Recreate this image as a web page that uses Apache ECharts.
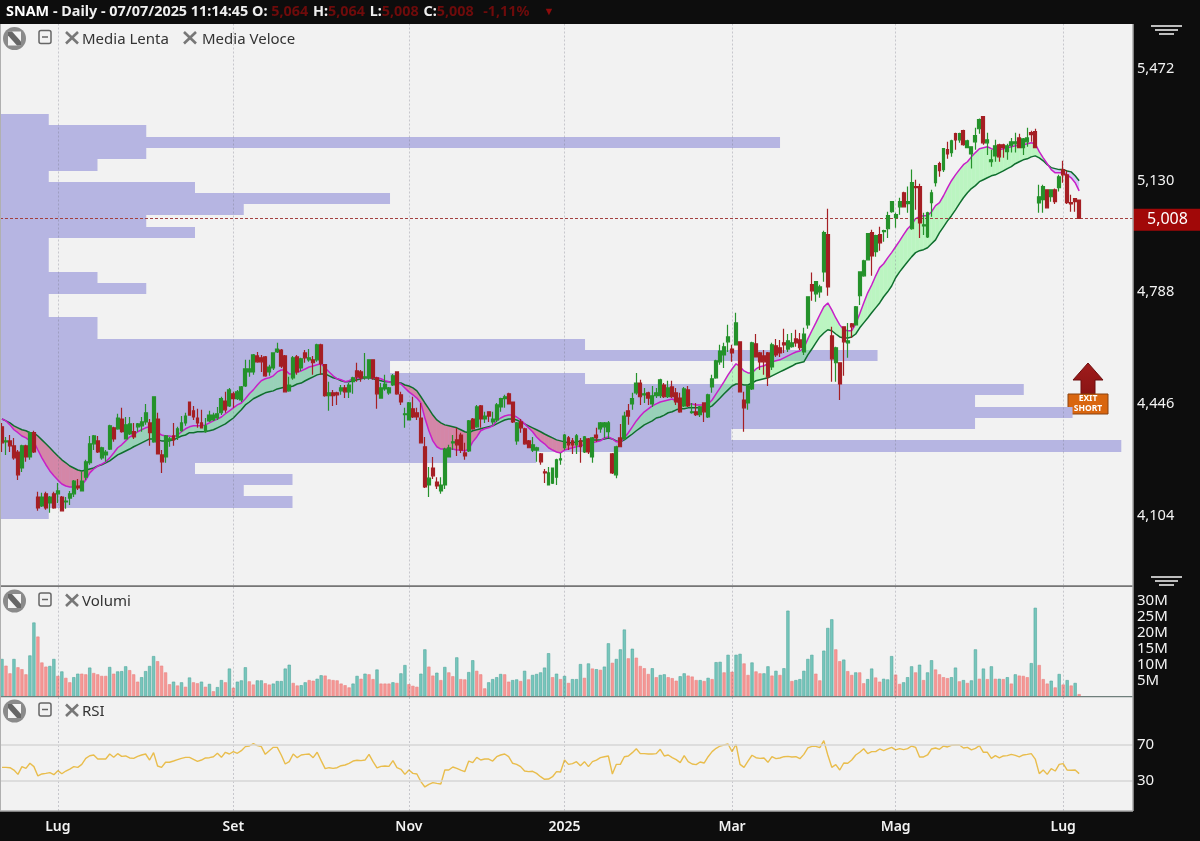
<!DOCTYPE html>
<html><head><meta charset="utf-8">
<style>html,body{margin:0;padding:0;background:#0d0d0d}#c{width:1200px;height:841px}</style>
<script src="https://cdn.jsdelivr.net/npm/echarts@6/dist/echarts.min.js"></script></head>
<body><div id="c"></div>
<script>
// [open, close, low, high], thousandths of a euro
const candles = [
[4370,4321,4293,4382],[4324,4327,4284,4339],[4327,4312,4293,4345],[4312,4275,4269,4336],[4293,4223,4207,4299],[4244,4312,4232,4315],[4312,4278,4263,4315],[4278,4352,4269,4355],[4352,4293,4290,4358],[4155,4122,4113,4171],
[4128,4155,4125,4168],[4165,4122,4116,4171],[4137,4155,4107,4158],[4165,4122,4119,4171],[4165,4174,4137,4198],[4155,4113,4113,4158],[4140,4143,4119,4155],[4152,4165,4131,4174],[4165,4204,4155,4207],[4189,4183,4177,4210],
[4174,4204,4174,4235],[4216,4263,4207,4269],[4260,4318,4254,4342],[4318,4342,4299,4345],[4327,4293,4290,4342],[4275,4306,4269,4309],[4284,4293,4263,4299],[4302,4373,4299,4376],[4367,4333,4324,4370],[4364,4397,4361,4410],
[4394,4355,4352,4428],[4333,4376,4333,4400],[4348,4379,4345,4400],[4355,4339,4333,4382],[4370,4379,4355,4382],[4373,4385,4355,4400],[4385,4413,4376,4440],[4382,4352,4312,4394],[4324,4462,4321,4462],[4394,4287,4287,4413],
[4284,4263,4229,4299],[4278,4342,4260,4345],[4330,4333,4309,4339],[4342,4330,4312,4382],[4339,4364,4330,4370],[4358,4382,4355,4403],[4382,4403,4373,4413],[4446,4406,4406,4446],[4419,4400,4391,4434],[4397,4382,4367,4425],
[4382,4367,4367,4422],[4355,4373,4352,4397],[4388,4406,4385,4419],[4391,4406,4388,4413],[4397,4410,4391,4431],[4413,4456,4406,4462],[4449,4422,4413,4477],[4434,4483,4431,4489],[4471,4456,4428,4477],[4456,4477,4452,4483],
[4452,4492,4446,4495],[4495,4547,4492,4575],[4538,4547,4523,4575],[4538,4590,4529,4593],[4587,4569,4566,4599],[4581,4569,4538,4590],[4584,4526,4523,4587],[4538,4553,4526,4560],[4550,4596,4544,4596],[4599,4608,4596,4627],
[4605,4556,4550,4608],[4587,4477,4477,4590],[4480,4498,4477,4523],[4520,4581,4514,4587],[4584,4538,4529,4590],[4550,4578,4541,4581],[4596,4581,4566,4605],[4575,4581,4569,4608],[4575,4566,4529,4587],[4575,4621,4569,4624],
[4621,4563,4529,4624],[4560,4465,4462,4560],[4465,4474,4419,4508],[4474,4465,4434,4483],[4474,4468,4437,4477],[4480,4489,4468,4498],[4489,4477,4458,4498],[4477,4498,4458,4504],[4508,4520,4471,4523],[4541,4523,4508,4566],
[4538,4520,4508,4544],[4520,4523,4514,4596],[4520,4575,4514,4575],[4575,4520,4514,4575],[4520,4471,4425,4523],[4458,4489,4458,4504],[4486,4501,4480,4529],[4474,4489,4468,4492],[4498,4526,4495,4532],[4538,4471,4468,4538],
[4468,4446,4437,4477],[4407,4410,4367,4428],[4391,4443,4391,4446],[4425,4400,4397,4462],[4413,4400,4391,4428],[4397,4321,4321,4443],[4309,4186,4183,4339],[4192,4213,4155,4247],[4244,4220,4210,4278],[4201,4189,4180,4216],
[4174,4192,4165,4216],[4192,4302,4180,4306],[4278,4306,4278,4315],[4321,4324,4299,4345],[4330,4315,4281,4367],[4345,4299,4290,4352],[4290,4281,4269,4321],[4296,4388,4293,4391],[4394,4364,4361,4397],[4370,4431,4367,4437],
[4434,4394,4367,4437],[4394,4403,4382,4416],[4416,4403,4385,4416],[4385,4394,4376,4416],[4391,4437,4385,4443],[4431,4456,4416,4459],[4456,4462,4428,4468],[4471,4440,4440,4474],[4446,4385,4382,4446],[4327,4382,4315,4385],
[4385,4367,4352,4394],[4364,4318,4315,4367],[4327,4306,4306,4330],[4299,4315,4293,4339],[4299,4306,4263,4309],[4287,4263,4254,4290],[4232,4229,4198,4241],[4192,4229,4192,4247],[4198,4244,4195,4244],[4216,4269,4192,4272],
[4269,4272,4254,4290],[4306,4345,4299,4348],[4336,4315,4299,4342],[4327,4315,4287,4336],[4315,4342,4287,4348],[4327,4309,4260,4336],[4293,4339,4290,4342],[4333,4293,4287,4336],[4278,4336,4260,4339],[4345,4336,4324,4367],
[4364,4382,4352,4385],[4370,4382,4336,4385],[4355,4382,4336,4388],[4287,4229,4226,4290],[4223,4309,4213,4312],[4336,4309,4309,4379],[4333,4403,4330,4416],[4419,4403,4376,4440],[4440,4456,4422,4474],[4474,4504,4468,4535],
[4504,4462,4437,4514],[4468,4471,4443,4489],[4474,4458,4437,4477],[4440,4465,4431,4495],[4465,4474,4458,4489],[4465,4514,4458,4517],[4498,4462,4458,4504],[4462,4489,4458,4511],[4492,4462,4458,4511],[4474,4446,4437,4489],
[4458,4416,4413,4474],[4434,4486,4431,4492],[4483,4434,4431,4495],[4413,4416,4410,4443],[4416,4407,4403,4443],[4407,4431,4400,4434],[4443,4416,4385,4443],[4400,4468,4397,4471],[4492,4517,4474,4529],[4520,4572,4517,4575],
[4569,4602,4560,4621],[4590,4615,4550,4627],[4630,4645,4599,4682],[4608,4596,4569,4621],[4621,4688,4621,4719],[4630,4477,4477,4630],[4452,4428,4355,4477],[4443,4495,4422,4498],[4486,4627,4483,4630],[4624,4584,4584,4654],
[4596,4569,4544,4599],[4587,4569,4529,4605],[4596,4523,4495,4599],[4553,4621,4544,4627],[4618,4590,4584,4639],[4612,4596,4584,4636],[4627,4621,4596,4670],[4608,4633,4599,4654],[4615,4627,4612,4657],[4639,4627,4615,4667],
[4636,4612,4605,4657],[4599,4654,4590,4673],[4682,4768,4670,4768],[4805,4786,4756,4842],[4777,4814,4753,4814],[4783,4798,4765,4805],[4844,4964,4814,4970],[4958,4798,4771,5037],[4648,4578,4508,4676],[4566,4612,4508,4615],
[4566,4501,4452,4566],[4676,4630,4526,4676],[4627,4633,4581,4688],[4685,4676,4642,4688],[4682,4737,4682,4740],[4771,4844,4743,4844],[4832,4878,4829,4881],[4881,4961,4881,4961],[4964,4893,4832,4973],[4906,4955,4890,4958],
[4958,4933,4909,4982],[4967,4970,4936,4973],[4976,5016,4948,5028],[5028,5059,5025,5059],[5010,5019,4979,5025],[5043,5059,5019,5071],[5086,5043,5043,5089],[5053,5059,5025,5105],[4976,5117,4973,5157],[5105,5102,5034,5126],
[5105,4994,4948,5114],[4985,4988,4957,5025],[4951,5025,4948,5028],[5056,5086,5013,5095],[5117,5169,5105,5169],[5175,5154,5135,5181],[5157,5221,5150,5221],[5218,5205,5190,5242],[5209,5245,5196,5248],[5267,5248,5218,5270],
[5248,5267,5239,5270],[5276,5233,5230,5279],[5224,5245,5224,5248],[5205,5227,5160,5227],[5242,5261,5218,5285],[5282,5310,5267,5313],[5319,5239,5233,5319],[5239,5248,5202,5270],[5181,5187,5166,5218],[5199,5230,5181,5248],
[5233,5196,5181,5236],[5233,5224,5193,5236],[5212,5230,5187,5236],[5230,5242,5209,5254],[5236,5242,5209,5270],[5254,5224,5224,5267],[5224,5251,5202,5254],[5242,5254,5227,5285],[5270,5264,5242,5276],[5273,5224,5224,5282],
[5055,5074,5025,5111],[5065,5105,5025,5111],[5095,5040,5040,5095],[5074,5095,5059,5095],[5095,5059,5052,5099],[5102,5135,5090,5141],[5157,5141,5117,5184],[5141,5056,5052,5154],[5056,5052,5028,5080],[5068,5059,5028,5068],
[5064,5008,5008,5064]];

const fastMA = [4394,4388,4376,4361,4352,4342,4336,4327,4324,4299,4275,4254,4235,4220,4207,4195,4189,4186,4186,4186,4192,4207,4229,4241,4250,4256,4263,4275,4290,4306,4315,4327,4339,4345,4355,4361,4367,4370,4367,4352,4345,4342,4342,4339,4345,4355,4364,4370,4373,4373,
4373,4376,4382,4388,4394,4400,4410,4419,4428,4437,4443,4456,4471,4483,4498,4511,4517,4520,4526,4538,4544,4544,4532,4532,4538,4541,4547,4553,4556,4560,4563,4550,4538,4526,4517,4514,4508,4511,4517,4520,4520,4520,4520,4520,4520,4517,4511,4508,4504,4504,
4501,4489,4477,4468,4458,4443,4397,4358,4327,4309,4302,4302,4302,4302,4299,4299,4296,4302,4324,4339,4358,4364,4367,4373,4388,4397,4403,4406,4406,4400,4391,4379,4367,4355,4339,4327,4318,4306,4299,4293,4290,4299,4302,4306,4309,4312,4315,4318,4321,4324,
4327,4336,4339,4333,4324,4324,4336,4352,4370,4388,4403,4416,4425,4434,4440,4446,4449,4452,4455,4449,4440,4437,4440,4440,4437,4437,4437,4440,4452,4471,4489,4508,4529,4547,4563,4554,4541,4535,4535,4547,4554,4557,4563,4569,4572,4575,4581,4587,4593,4599,
4602,4611,4639,4664,4688,4713,4737,4749,4728,4703,4682,4667,4664,4664,4685,4716,4749,4780,4804,4832,4857,4869,4887,4903,4921,4939,4958,4976,4988,5007,5013,5016,5016,5028,5047,5056,5077,5101,5123,5141,5157,5172,5181,5196,5209,5221,5224,5227,5221,5218,5218,5221,5224,5227,5230,5230,5233,5236,5239,5236,5212,5193,5175,5157,5147,5147,5147,5141,5132,5117,5092];

const slowMA = [4394,4388,4382,4373,4367,4361,4358,4352,4352,4342,4330,4318,4306,4293,4281,4269,4260,4250,4244,4238,4235,4238,4241,4244,4250,4254,4260,4266,4275,4284,4290,4296,4302,4309,4315,4321,4327,4333,4333,4330,4327,4327,4327,4330,4336,4342,4345,4352,4352,4355,
4355,4356,4358,4361,4367,4373,4379,4388,4397,4410,4422,4437,4446,4456,4462,4468,4474,4477,4480,4486,4489,4492,4492,4495,4501,4504,4511,4517,4523,4529,4532,4532,4526,4520,4517,4511,4508,4508,4511,4514,4517,4520,4520,4517,4514,4511,4508,4508,4504,4504,
4504,4498,4495,4489,4480,4462,4443,4425,4406,4391,4382,4376,4373,4370,4367,4361,4355,4352,4358,4361,4364,4367,4370,4373,4379,4385,4391,4394,4394,4391,4385,4379,4373,4367,4361,4355,4348,4342,4336,4330,4327,4324,4321,4321,4324,4327,4327,4327,4330,4330,
4330,4333,4336,4333,4327,4324,4330,4339,4348,4358,4367,4376,4382,4388,4397,4400,4406,4413,4416,4422,4425,4425,4428,4428,4428,4428,4428,4428,4434,4446,4458,4471,4483,4495,4501,4501,4498,4498,4504,4511,4514,4517,4520,4526,4532,4538,4544,4550,4556,4563,
4566,4569,4590,4608,4627,4645,4657,4667,4664,4654,4645,4642,4642,4645,4654,4673,4688,4703,4719,4734,4749,4768,4783,4801,4826,4844,4860,4875,4890,4903,4909,4912,4918,4930,4942,4964,4982,5000,5016,5034,5053,5071,5086,5099,5108,5120,5126,5132,5138,5141,5147,5153,5160,5166,5175,5181,5187,5190,5196,5199,5193,5184,5172,5163,5160,5157,5157,5153,5150,5138,5123];

// millions of shares
const volumes = [11.8,9.7,7.3,11.8,9.2,8.6,7.0,12.9,23.2,18.8,10.7,9.4,9.6,11.8,6.5,7.9,5.9,4.5,6.1,7.2,7.2,7.0,9.1,7.4,7.0,6.5,6.5,9.3,7.2,7.9,8.0,9.5,8.3,7.0,4.7,6.1,8.0,9.6,12.7,11.1,9.7,7.6,3.9,4.7,3.5,4.5,3.1,6.0,4.5,4.2,
4.7,3.1,4.0,1.7,3.0,5.2,4.5,8.8,2.8,4.7,5.1,9.2,4.8,3.8,5.1,5.1,4.2,3.8,4.1,4.9,4.9,8.8,10.0,4.3,3.5,3.6,4.5,5.2,5.0,5.6,6.7,6.6,5.4,5.2,5.1,4.1,3.6,2.9,4.1,6.5,5.6,7.2,7.0,5.5,8.5,4.1,4.1,4.1,4.5,4.3,
7.3,9.9,3.9,3.4,3.1,7.2,14.8,9.4,6.6,7.5,5.2,9.3,7.6,6.4,12.3,5.5,5.4,7.7,11.4,8.1,7.0,2.6,4.5,5.5,6.1,7.1,7.0,4.7,5.2,5.4,4.9,8.1,5.4,6.8,7.1,7.6,9.1,13.6,6.1,7.2,5.5,6.5,4.3,5.5,5.5,10.2,5.9,10.4,8.8,8.6,
8.4,9.4,16.7,10.6,11.8,14.8,21.0,12.0,15.0,12.2,9.6,8.9,7.1,8.9,6.1,6.8,7.0,6.1,5.8,5.0,6.4,7.3,6.6,6.3,5.2,5.2,4.9,5.9,5.5,10.8,10.9,7.6,13.1,7.8,13.1,13.4,10.4,6.8,10.7,7.9,7.3,7.3,9.5,6.6,8.1,6.8,8.9,26.9,4.9,5.2,
5.5,8.1,11.8,13.1,7.2,5.1,14.4,21.5,24.2,14.8,11.1,11.6,8.0,6.8,7.6,7.6,4.2,5.5,8.8,6.0,4.7,5.6,5.4,12.7,6.9,4.0,4.5,6.1,9.5,7.6,10.0,5.2,7.6,11.4,8.5,7.0,6.1,5.8,6.1,9.1,4.8,5.2,4.3,5.1,14.8,5.6,8.8,5.5,9.5,5.6,5.6,5.5,6.1,4.1,7.0,6.6,6.5,6.1,10.5,27.8,9.9,5.5,4.1,5.0,2.9,7.1,3.8,5.2,3.5,4.3,0.8];
// 1 = teal bar, 0 = red bar
const volumeUp = [1,0,0,1,0,0,0,1,1,0,0,0,1,1,0,1,0,0,1,1,0,0,1,0,0,0,0,1,0,1,1,1,0,0,0,1,1,1,1,0,0,0,0,1,0,1,0,1,0,0,
1,0,1,0,1,1,0,1,0,1,1,1,0,0,1,1,0,0,1,1,1,1,1,0,0,1,1,0,0,1,1,0,0,0,0,0,0,0,1,1,0,1,0,0,1,0,0,0,1,0,
1,1,0,0,0,1,1,0,0,1,0,1,0,0,1,0,0,1,1,0,0,0,1,1,1,1,0,0,1,1,0,1,0,1,1,1,1,1,0,1,0,1,0,1,1,1,0,1,0,1,
0,1,1,0,1,1,1,0,1,0,0,0,0,1,0,1,1,0,0,0,1,1,0,0,0,1,0,1,0,1,1,0,1,0,1,1,0,0,1,0,0,1,1,0,1,0,1,1,0,1,
1,1,1,1,0,0,1,1,1,0,0,1,0,0,1,0,0,1,1,0,0,1,1,1,0,0,1,1,1,0,1,0,1,1,0,0,0,0,1,1,0,1,0,1,1,0,1,0,1,0,1,0,1,0,1,0,0,0,1,1,0,0,0,1,0,1,0,1,0,1,0];

const rsiValues = [45.2,45.2,44.8,42.2,37.4,46,44.1,49.7,46,35.6,37.8,38.5,39.3,37,41.5,38.1,41.1,43.3,46,45.2,48.5,55.2,58.1,58.9,54.4,54.4,54.4,60,56.3,60.4,57.4,57.8,55.6,55.2,57.4,58.9,60,53.3,61.5,46.7,45.2,50.8,50.8,52.2,53.7,55.2,56.3,56.3,54.1,51.9,
53.3,55.6,55.9,57,60.8,56.3,61.9,60,62.6,60.8,63.7,68.2,68.9,71.5,69.3,68.2,59.6,63.7,67.4,67.4,58.9,48.9,51.5,60,55.9,58.9,59.6,60,55.9,61.9,52.6,43.7,44.8,44.1,44.8,47,47.8,49.7,52.2,53,52.6,53.3,59.6,51.5,44.5,46.3,46.7,46.3,52.6,44.8,
43,37.4,42.2,38.5,37.8,29.3,23.4,26.3,28.2,27.4,26.7,42.2,42.2,45.6,44.1,42.2,40.4,52.2,50.4,56.3,53.3,54.4,54.4,52.2,57,58.9,60,57,49.7,48.5,46,41.1,40.4,40.8,38.5,34.8,31.9,32.2,34.8,40.4,40,53.3,48.5,49.3,51.5,47,51.5,46,51.5,53.3,
55.9,57,57.8,37.8,48.5,48.5,57,57.8,61.5,65.9,60.4,60.4,60,60,60.4,65.2,57.8,58.9,55.9,53.7,50.4,58.2,51.5,48.9,48.2,51.1,50,57,62.6,66.3,68.9,70,71.1,62.6,70.8,48.5,45.2,52.2,58.6,55.9,55.2,55.6,50.8,57,54.8,55.6,57,57.4,56.7,57,
54.8,59.6,66.7,68.5,68.5,67,74.8,58.9,45.2,48.2,42.2,50,49.7,53.3,58.9,61.9,65.9,60.4,62.6,62.6,65.6,63.7,65.6,67.4,64.5,65.9,64.8,65.9,68.9,67.4,56.7,56.7,58.9,65.6,66.7,65.2,68.9,67.8,69.7,70,70,66.7,67.4,64.5,66.3,69.3,61.9,61.9,55.2,58.2,55.6,57.8,58.2,59.6,58.5,56.7,58.9,59.6,60.4,54.4,38.2,42.2,37.4,43.7,41.1,48.5,49.3,42.2,41.9,42.2,38.2];

// volume-at-price histogram: price edges and the height of each row
const profileEdges = [4088,4122,4157,4191,4226,4260,4294,4329,4363,4398,4432,4466,4501,4535,4570,4604,4638,4673,4707,4742,4776,4810,4845,4879,4914,4948,4982,5017,5051,5086,5120,5154,5189,5223,5258,5292,5326];
const profileCounts = [1,6,5,6,4,11,23,15,20,22,20,21,12,8,18,12,2,2,1,1,3,2,1,1,1,4,3,5,8,4,1,2,3,16,3,1];

const monthIndex = [14,58,102,141,183,224,266];
const monthLabels = ['Lug','Set','Nov','2025','Mar','Mag','Lug'];
const priceTicks = [4104,4446,4788,5130,5472];
const volumeTicks = [5,10,15,20,25,30];
const rsiTicks = [30,70];
const lastPrice = 5008;
const slotCount = 284;

[candles,fastMA,slowMA,volumes,volumeUp,rsiValues].forEach((a,k)=>{ if(a.length!==271) throw new Error('len '+k+' = '+a.length); });
if(profileCounts.length!==profileEdges.length-1) throw new Error('profile');

const categories = Array.from({length:slotCount},(_,i)=>{const k=monthIndex.indexOf(i);return k>=0?monthLabels[k]:String(i);});
const fmtPrice = v => (v/1000).toFixed(3).replace('.',',');
const FONT='"Noto Sans", sans-serif';
const AXIS_W='#f2f2f2';

const gridLines = {silent:true,symbol:'none',label:{show:false},animation:false,
  lineStyle:{color:'rgba(110,110,125,0.32)',type:[2,2],width:1},data:monthIndex.map(i=>({xAxis:i}))};

const chart = echarts.init(document.getElementById('c'),null,{renderer:'canvas',width:1200,height:841});

function icon(yc,labels){
  const els=[];
  els.push({type:'circle',shape:{cx:14.5,cy:yc,r:11.5},style:{fill:'#8b8b8b'},silent:true});
  els.push({type:'polygon',shape:{points:[[8,yc-7],[21,yc-7],[21,yc+7],[8,yc+7]]},style:{fill:'#f4f4f4'},silent:true});
  els.push({type:'polygon',shape:{points:[[8,yc-7],[12,yc-7],[21,yc+3],[21,yc+7],[17,yc+7],[8,yc-3]]},style:{fill:'#666'},silent:true});
  els.push({type:'rect',shape:{x:39,y:yc-8,width:12,height:13,r:2},style:{fill:'none',stroke:'#666',lineWidth:1.5},silent:true});
  els.push({type:'line',shape:{x1:42,y1:yc-1.5,x2:48,y2:yc-1.5},style:{stroke:'#666',lineWidth:1.5},silent:true});
  labels.forEach(l=>{
    const x=l.x;
    els.push({type:'line',shape:{x1:x,y1:yc-6.5,x2:x+12,y2:yc+5},style:{stroke:'#777',lineWidth:2.6},silent:true});
    els.push({type:'line',shape:{x1:x+12,y1:yc-6.5,x2:x,y2:yc+5},style:{stroke:'#777',lineWidth:2.6},silent:true});
    els.push({type:'text',x:l.tx,y:yc+1,style:{text:l.t,fill:'#333',font:'15px '+FONT,verticalAlign:'middle',align:'left'},silent:true});
  });
  return els;
}
function handle(y,x0,x1){
  return [0,1,2].map(k=>({type:'line',shape:{x1:x0+k*4,y1:y+k*4,x2:x1-k*4,y2:y+k*4},style:{stroke:'#bdbdbd',lineWidth:2},silent:true}));
}

const graphic = [
  {type:'line',z:50,shape:{x1:0,y1:586,x2:1133,y2:586},style:{stroke:'#9a9a9a',lineWidth:1.5},silent:true},
  {type:'line',z:50,shape:{x1:0,y1:696.7,x2:1133,y2:696.7},style:{stroke:'#6f7f7c',lineWidth:1.2},silent:true},
  {type:'line',z:50,shape:{x1:0,y1:811,x2:1133,y2:811},style:{stroke:'#a8a8a8',lineWidth:1.5},silent:true},
  {type:'line',z:50,shape:{x1:1133,y1:24,x2:1133,y2:811},style:{stroke:'#a8a8a8',lineWidth:1.5},silent:true},
  {type:'line',z:50,shape:{x1:0.5,y1:24,x2:0.5,y2:811},style:{stroke:'#b0b0b0',lineWidth:1},silent:true},
  {type:'group',z:60,children:[
    ...icon(38.5,[{x:66,tx:82,t:'Media Lenta'},{x:184,tx:202,t:'Media Veloce'}]),
    ...icon(601,[{x:66,tx:82,t:'Volumi'}]),
    ...icon(711,[{x:66,tx:82,t:'RSI'}]),
    ...handle(26,1151,1182),
    ...handle(577,1151,1182),
    {type:'polygon',shape:{points:[[1088,363],[1103,380],[1095,380],[1095,394],[1081,394],[1081,380],[1073,380]]},
      style:{fill:{type:'linear',x:0,y:0,x2:0,y2:1,colorStops:[{offset:0,color:'#a01c1c'},{offset:1,color:'#8a1414'}]},stroke:'#6d0f0f',lineWidth:1},silent:true},
    {type:'rect',shape:{x:1068,y:394,width:40,height:20},style:{fill:'#d9660f',stroke:'#8a4210',lineWidth:1},silent:true},
    {type:'text',x:1088,y:404,style:{text:'EXIT\nSHORT',fill:'#fff',font:'bold 8.5px '+FONT,align:'center',verticalAlign:'middle',lineHeight:10},silent:true}
  ]}
];

function bandItem(params,api){
  const i=api.value(0);
  const p1=api.coord([i,api.value(1)]),p2=api.coord([i+1,api.value(3)]);
  const q2=api.coord([i+1,api.value(4)]),q1=api.coord([i,api.value(2)]);
  const up=(api.value(1)+api.value(3))>=(api.value(2)+api.value(4));
  const fill=up?'rgba(112,250,127,0.42)':(i>=255?'rgba(180,160,250,0.5)':'rgba(255,70,85,0.42)');
  return {type:'polygon',shape:{points:[p1,p2,q2,q1]},style:{fill:fill,stroke:null},silent:true};
}
function profileItem(params,api){
  const a=api.coord([0,api.value(1)]),b=api.coord([api.value(0),api.value(2)]);
  const yTop=Math.round(b[1]),yBot=Math.round(a[1]);
  return {type:'rect',shape:{x:a[0],y:yTop,width:b[0]-a[0],height:yBot-yTop},style:{fill:'#b6b5e2'},silent:true};
}

const option = {
  animation:false,
  backgroundColor:'#0d0d0d',
  textStyle:{fontFamily:FONT},
  title:{left:6,top:1,padding:0,text:'{b|SNAM}{w| - Daily - 07/07/2025 11:14:45 O: }{r|5,064} {w|H:}{r|5,064} {w|L:}{r|5,008} {w|C:}{r|5,008}  {r|-1,11%}   {t|▼}',
    textStyle:{rich:{
      b:{color:'#fff',fontSize:14.4,fontWeight:'bold',fontFamily:FONT,lineHeight:22},
      w:{color:'#efefef',fontSize:14.4,fontFamily:FONT,lineHeight:22},
      r:{color:'#6e0b0b',fontSize:14.4,fontFamily:FONT,lineHeight:22},
      t:{color:'#8d0c0c',fontSize:11,fontFamily:FONT,lineHeight:22}}}},
  graphic:graphic,
  axisPointer:{show:false},
  grid:[
    {left:0,right:67,top:24,height:561.5,show:true,backgroundColor:'#f2f2f2',borderWidth:0},
    {left:0,right:67,top:587,height:109.7,show:true,backgroundColor:'#f2f2f2',borderWidth:0},
    {left:0,right:67,top:697,height:114,show:true,backgroundColor:'#f2f2f2',borderWidth:0}
  ],
  xAxis:[
    {type:'category',gridIndex:0,data:categories,show:false},
    {type:'value',gridIndex:0,min:0,max:23.24,show:false},
    {type:'category',gridIndex:1,data:categories,show:false},
    {type:'category',gridIndex:2,data:categories,axisLine:{show:false},axisTick:{show:false},splitLine:{show:false},
      axisLabel:{show:true,color:AXIS_W,fontSize:14,fontWeight:600,fontFamily:FONT,margin:9,hideOverlap:false,
        interval:(i)=>monthIndex.includes(i),formatter:(v)=>v}}
  ],
  yAxis:[
    {type:'value',gridIndex:0,position:'right',min:3884.5,max:5602.5,scale:true,axisLine:{show:false},axisTick:{show:false},splitLine:{show:false},
      axisLabel:{customValues:priceTicks,margin:4,formatter:(v)=>'{a|'+fmtPrice(v)+'}',
        rich:{a:{color:AXIS_W,fontSize:14.6,fontFamily:FONT,padding:[4,0,0,0]}}}},
    {type:'value',gridIndex:1,position:'right',min:0,max:34.3,axisLine:{show:false},axisTick:{show:false},splitLine:{show:false},
      axisLabel:{customValues:volumeTicks,color:AXIS_W,fontSize:15,fontFamily:FONT,margin:4,formatter:(v)=>v+'M'}},
    {type:'value',gridIndex:2,position:'right',min:-3.3,max:123.3,axisLine:{show:false},axisTick:{show:false},splitLine:{show:false},
      axisLabel:{customValues:rsiTicks,color:AXIS_W,fontSize:15,fontFamily:FONT,margin:4}}
  ],
  series:[
    {type:'custom',name:'profile',xAxisIndex:1,yAxisIndex:0,z:1,clip:true,silent:true,renderItem:profileItem,
      encode:{x:0,y:[1,2]},data:profileCounts.map((v,k)=>[v,profileEdges[k],profileEdges[k+1]])},
    {type:'line',name:'grid0',xAxisIndex:0,yAxisIndex:0,z:2,data:[],silent:true,markLine:gridLines},
    {type:'custom',name:'band',xAxisIndex:0,yAxisIndex:0,z:3,clip:true,silent:true,renderItem:bandItem,
      encode:{x:0,y:[1,2]},data:fastMA.slice(0,-1).map((v,i)=>[i,v,slowMA[i],fastMA[i+1],slowMA[i+1]])},
    {type:'line',name:'Media Lenta',xAxisIndex:0,yAxisIndex:0,z:4,data:slowMA,symbol:'none',silent:true,lineStyle:{color:'#0f6e2e',width:1.5}},
    {type:'line',name:'Media Veloce',xAxisIndex:0,yAxisIndex:0,z:4,data:fastMA,symbol:'none',silent:true,lineStyle:{color:'#c81fc8',width:1.5}},
    {type:'candlestick',name:'SNAM',xAxisIndex:0,yAxisIndex:0,z:5,data:candles,barWidth:3.4,silent:true,
      itemStyle:{color:'#25922b',color0:'#a51f24',borderColor:'#25922b',borderColor0:'#a51f24',borderWidth:1.2}},
    {type:'line',name:'last',xAxisIndex:0,yAxisIndex:0,z:6,data:[],silent:true,markLine:{silent:true,symbol:'none',animation:false,
      lineStyle:{color:'#a34040',type:[3,2],width:1},
      label:{show:true,position:'end',distance:0,offset:[0,1.5],formatter:()=>fmtPrice(lastPrice),color:'#fff',fontSize:16,fontFamily:FONT,
        backgroundColor:'#a10808',width:53,height:22,lineHeight:22,align:'left',padding:[0,0,0,14]},
      data:[{yAxis:lastPrice}]}},
    {type:'line',name:'grid1',xAxisIndex:2,yAxisIndex:1,z:2,data:[],silent:true,markLine:gridLines},
    {type:'bar',name:'Volumi',xAxisIndex:2,yAxisIndex:1,z:3,barWidth:3.2,silent:true,
      data:volumes.map((v,i)=>({value:v,itemStyle:volumeUp[i]
        ?{color:'#76c6bc',borderColor:'#53a89d',borderWidth:0.6}
        :{color:'#f59795',borderColor:'#ea8583',borderWidth:0.6}}))},
    {type:'line',name:'grid2',xAxisIndex:3,yAxisIndex:2,z:2,data:[],silent:true,markLine:gridLines},
    {type:'line',name:'rsiLevels',xAxisIndex:3,yAxisIndex:2,z:2,data:[],silent:true,markLine:{silent:true,symbol:'none',animation:false,label:{show:false},
      lineStyle:{color:'#d6d6d6',type:'solid',width:1.5},data:rsiTicks.map(v=>({yAxis:v}))}},
    {type:'line',name:'RSI',xAxisIndex:3,yAxisIndex:2,z:4,data:rsiValues,symbol:'none',silent:true,lineStyle:{color:'#e9bd4c',width:1.4}}
  ]
};
chart.setOption(option);
</script></body></html>
